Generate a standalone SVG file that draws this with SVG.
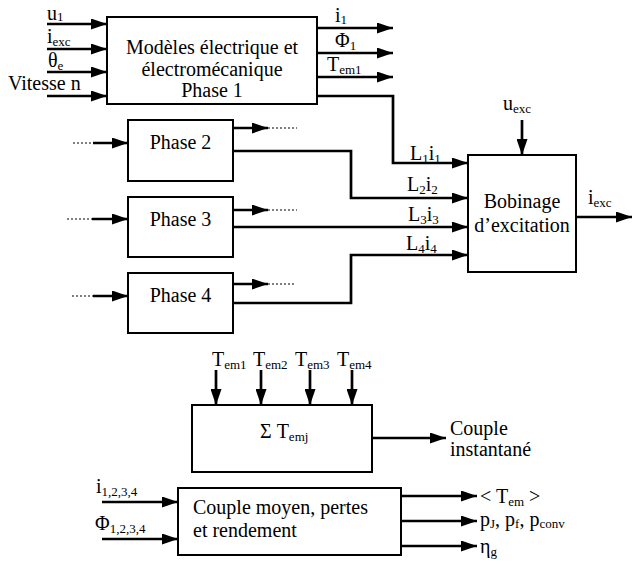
<svg xmlns="http://www.w3.org/2000/svg" width="633" height="564" viewBox="0 0 633 564">
<defs>
<marker id="ah" markerUnits="userSpaceOnUse" markerWidth="16" markerHeight="11" refX="16" refY="5.5" orient="auto">
<path d="M0,0 L16,5.5 L0,11 z" fill="#000"/>
</marker>
</defs>
<style>
text{font-family:'Liberation Serif', 'Times New Roman', serif;font-size:20px;fill:#000}
.s{font-size:13px}
.box{fill:#fff;stroke:#000;stroke-width:2}
.a{fill:none;stroke:#000;stroke-width:2.7;marker-end:url(#ah)}
.d{fill:none;stroke:#000;stroke-width:1;stroke-dasharray:2 2}
.c{text-anchor:middle}
</style>
<rect width="633" height="564" fill="#fff"/>
<g id="connectors">
<path class="a" d="M47,24 H107"/>
<path class="a" d="M47,49 H107"/>
<path class="a" d="M47,72 H107"/>
<path class="a" d="M47,96 H107"/>
<path class="a" d="M317,28 H393"/>
<path class="a" d="M317,53 H393"/>
<path class="a" d="M317,77 H393"/>
<path class="a" d="M317,96 H393 V163 H468"/>
<path class="a" d="M233,151 H351 V198 H468"/>
<path class="a" d="M233,227 H468"/>
<path class="a" d="M233,303 H351 V255 H468"/>
<path class="a" d="M522,120 V155"/>
<path class="a" d="M576,217 H632"/>
<path class="d" d="M73,143 H93"/>
<path class="a" d="M93,143 H128"/>
<path class="d" d="M67,219 H92"/>
<path class="a" d="M92,219 H128"/>
<path class="d" d="M72,296 H93"/>
<path class="a" d="M93,296 H128"/>
<path class="a" d="M233,128 H268"/>
<path class="d" d="M268,128 H297"/>
<path class="a" d="M233,210 H268"/>
<path class="d" d="M268,210 H297"/>
<path class="a" d="M233,284 H268"/>
<path class="d" d="M268,284 H296"/>
<path class="a" d="M216,370 V405"/>
<path class="a" d="M261,370 V405"/>
<path class="a" d="M310,370 V405"/>
<path class="a" d="M352,370 V405"/>
<path class="a" d="M372,438 H446"/>
<path class="a" d="M102,502 H178"/>
<path class="a" d="M102,539 H178"/>
<path class="a" d="M401,496 H477"/>
<path class="a" d="M401,521 H477"/>
<path class="a" d="M401,546 H477"/>
</g>
<g id="labels">
<text x="47" y="20">u<tspan class="s" dy="1">1</tspan></text>
<text x="47" y="43">i<tspan class="s" dy="3">exc</tspan></text>
<text x="48" y="67">θ<tspan class="s" dy="3">e</tspan></text>
<text x="8" y="90">Vitesse n</text>
<text x="335" y="22">i<tspan class="s" dy="2">1</tspan></text>
<text x="335" y="47">Φ<tspan class="s" dy="3">1</tspan></text>
<text x="327" y="71">T<tspan class="s" dy="3">em1</tspan></text>
<text x="410" y="160">L<tspan class="s" dy="3">1</tspan><tspan dy="-3">i</tspan><tspan class="s" dy="3">1</tspan></text>
<text x="407" y="191">L<tspan class="s" dy="3">2</tspan><tspan dy="-3">i</tspan><tspan class="s" dy="3">2</tspan></text>
<text x="408" y="221">L<tspan class="s" dy="3">3</tspan><tspan dy="-3">i</tspan><tspan class="s" dy="3">3</tspan></text>
<text x="406" y="250">L<tspan class="s" dy="3">4</tspan><tspan dy="-3">i</tspan><tspan class="s" dy="3">4</tspan></text>
<text x="503" y="110">u<tspan class="s" dy="3">exc</tspan></text>
<text x="588" y="204">i<tspan class="s" dy="3">exc</tspan></text>
<text x="212" y="366">T<tspan class="s" dy="3">em1</tspan></text>
<text x="253" y="366">T<tspan class="s" dy="3">em2</tspan></text>
<text x="295" y="366">T<tspan class="s" dy="3">em3</tspan></text>
<text x="337" y="366">T<tspan class="s" dy="3">em4</tspan></text>
<text x="450" y="435">Couple</text>
<text x="450" y="456">instantané</text>
<text x="96" y="493">i<tspan class="s" dy="3">1,2,3,4</tspan></text>
<text x="95" y="530">Φ<tspan class="s" dy="3">1,2,3,4</tspan></text>
<text x="480" y="503">&lt; T<tspan class="s" dy="3">em</tspan><tspan dy="-3"> &gt;</tspan></text>
<text x="480" y="526">p<tspan class="s" dy="2">J</tspan><tspan dy="-2">, p</tspan><tspan class="s" dy="2">f</tspan><tspan dy="-2">, p</tspan><tspan class="s" dy="2">conv</tspan></text>
<text x="480" y="553">η<tspan class="s" dy="3">g</tspan></text>
</g>
<g id="phase1">
<rect class="box" x="107" y="17" width="210" height="87"/>
<text class="c" x="212" y="54">Modèles électrique et</text>
<text class="c" x="212" y="76">électromécanique</text>
<text class="c" x="212" y="97">Phase 1</text>
</g>
<g id="phase2">
<rect class="box" x="128" y="120" width="105" height="61"/>
<text class="c" x="180.5" y="149">Phase 2</text>
</g>
<g id="phase3">
<rect class="box" x="128" y="197" width="105" height="60"/>
<text class="c" x="180.5" y="226">Phase 3</text>
</g>
<g id="phase4">
<rect class="box" x="128" y="273" width="105" height="60"/>
<text class="c" x="180.5" y="302">Phase 4</text>
</g>
<g id="bobinage">
<rect class="box" x="468" y="155" width="108" height="117"/>
<text class="c" x="522" y="208">Bobinage</text>
<text class="c" x="522" y="232">d’excitation</text>
</g>
<g id="somme">
<rect class="box" x="192" y="405" width="180" height="67"/>
<text x="260" y="438">Σ T<tspan class="s" dy="3">emj</tspan></text>
</g>
<g id="couple">
<rect class="box" x="178" y="488" width="223" height="67"/>
<text x="193" y="514">Couple moyen, pertes</text>
<text x="193" y="537">et rendement</text>
</g>
</svg>
